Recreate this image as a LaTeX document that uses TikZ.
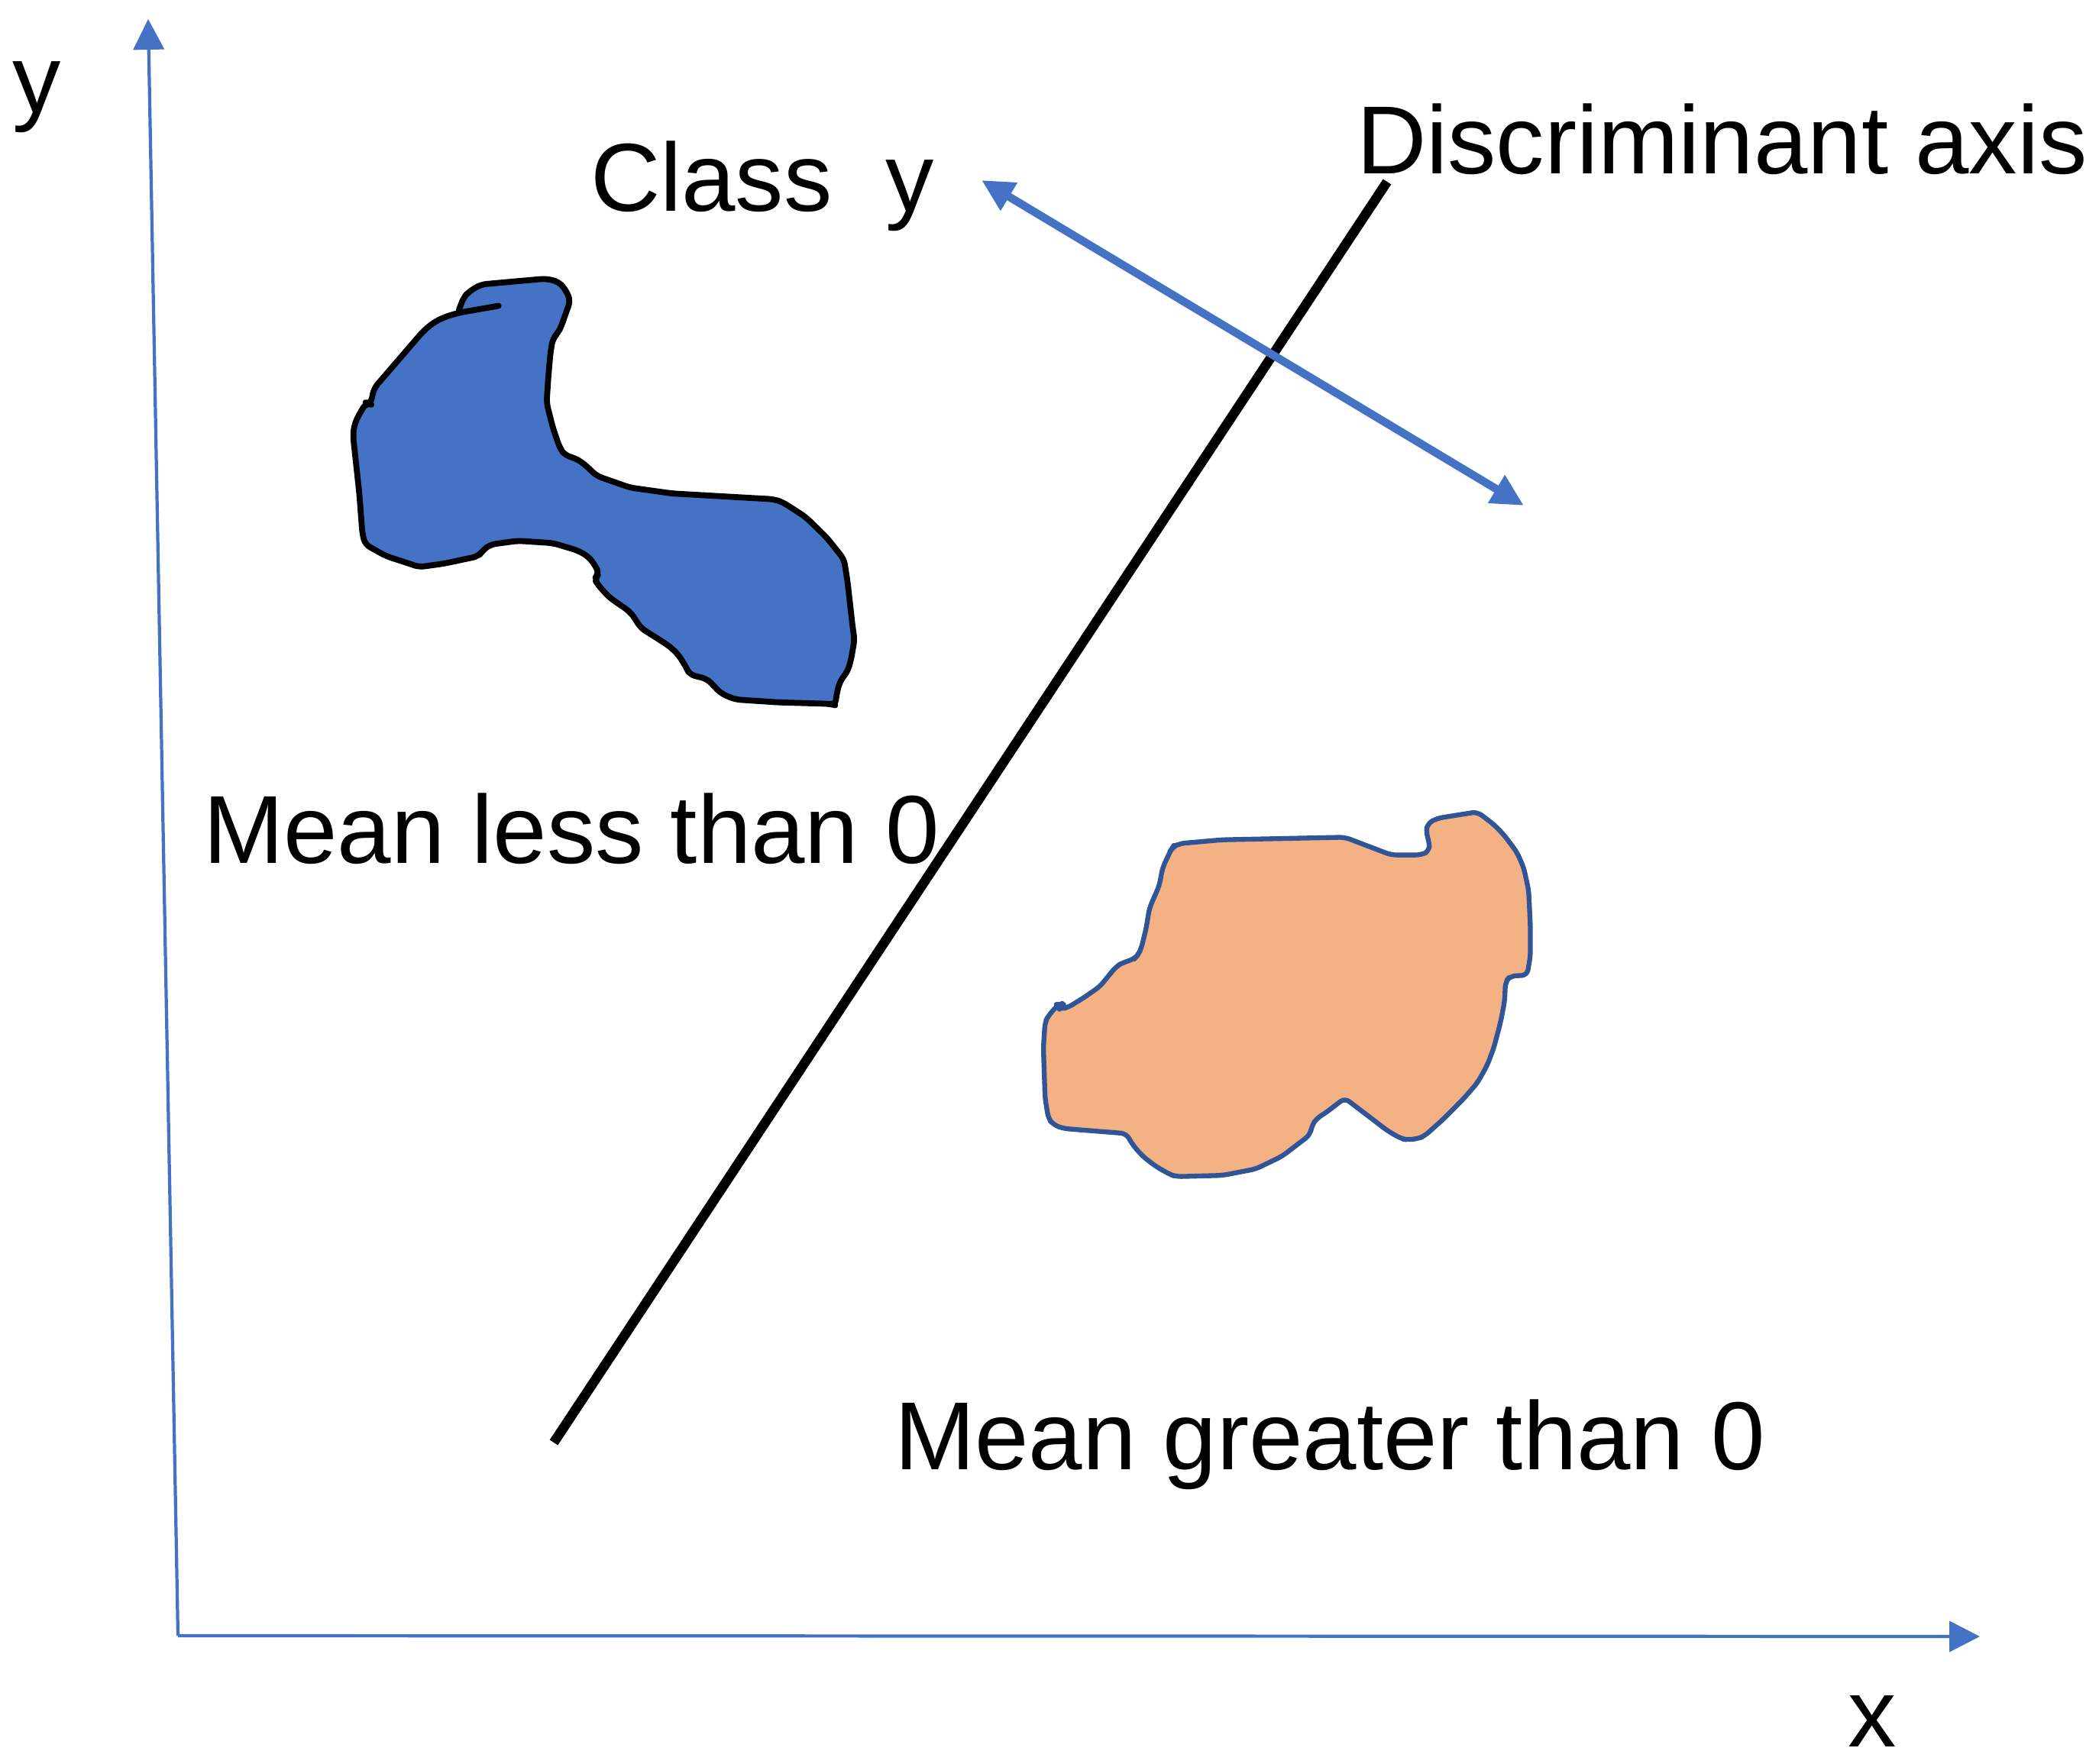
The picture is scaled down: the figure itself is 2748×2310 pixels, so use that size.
\documentclass[tikz,border=0pt]{standalone}
\usepackage{fontspec}
\setmainfont{Liberation Sans}
\usetikzlibrary{arrows.meta}
\definecolor{axisblue}{RGB}{68,114,196}
\definecolor{blobblue}{RGB}{68,114,196}
\definecolor{bloborange}{RGB}{244,177,131}
\definecolor{edgeblue}{RGB}{47,85,151}
\begin{document}
\begin{tikzpicture}[x=0.01cm,y=-0.01cm,
  lbl/.style={anchor=base west,inner sep=0pt,outer sep=0pt,font=\fontsize{36}{43}\selectfont},
  axisline/.style={draw=axisblue,line width=1.2pt,-{Triangle[length=0.4cm,width=0.4cm]}},
  dirarrow/.style={draw=axisblue,line width=3pt,{Triangle[length=0.42cm,width=0.4cm]}-{Triangle[length=0.42cm,width=0.4cm]}},
  discline/.style={draw=black,line width=3.6pt},
  blobA/.style={fill=blobblue,draw=black,line width=2.2pt,line join=round,line cap=round,rounded corners=2pt},
  blobB/.style={fill=bloborange,draw=edgeblue,line width=1.8pt,line join=round,rounded corners=2pt}]
\useasboundingbox (0,0) rectangle (2748,2310);

% axes
\coordinate (O) at (233,2142);
\coordinate (ytip) at (194,25);
\coordinate (xtip) at (2592,2143);
\draw[axisline] (O) -- (ytip);
\draw[axisline] (O) -- (xtip);

% blue class region
\path[blobA] (600.8,405.8) -- (606.8,389.8) -- (613.7,382.1) -- (629.7,372.5) -- (714.7,364.9) -- (730.7,368.7) -- (739.9,378.3) -- (746.8,393.6) -- (739.9,412.7) -- (735.3,426.1) -- (730.7,435.7) -- (723.8,443.3) -- (720.6,462.5) -- (717.9,493.1) -- (715.6,527.5) -- (723.8,560.0) -- (733.0,586.8) -- (739.9,596.4) -- (753.7,600.2) -- (765.2,607.9) -- (781.2,623.2) -- (824.9,638.5) -- (879.9,646.2) -- (1013.1,653.8) -- (1024.6,657.6) -- (1054.4,676.8) -- (1082.0,703.6) -- (1104.9,732.3) -- (1109.5,761.0) -- (1116.4,822.2) -- (1118.7,837.5) -- (1114.1,864.3) -- (1109.5,879.6) -- (1100.3,891.1) -- (1095.7,906.4) -- (1093.5,923.6) -- (1086.6,921.7) -- (1020.0,919.8) -- (962.6,916.0) -- (944.2,908.3) -- (935.0,898.7) -- (925.9,889.2) -- (902.9,883.4) -- (898.3,873.9) -- (889.1,858.6) -- (877.7,847.1) -- (857.0,833.7) -- (838.6,822.2) -- (831.7,810.7) -- (824.9,801.2) -- (797.3,782.0) -- (783.5,766.7) -- (778.0,757.9) -- (784.4,751.4) -- (778.9,739.9) -- (769.8,728.4) -- (756.0,720.8) -- (723.8,711.2) -- (677.9,708.2) -- (642.1,713.1) -- (632.0,720.8) -- (626.5,728.4) -- (581.5,738.0) -- (548.5,742.6) -- (535.6,738.0) -- (505.8,728.4) -- (478.2,713.1) -- (474.5,699.7) -- (470.4,646.2) -- (462.1,569.6) -- (464.4,554.3) -- (472.2,539.0) -- (479.6,527.5) -- (485.1,529.4) -- (489.7,508.4) -- (554.0,433.8) -- (567.7,422.3) -- (581.5,415.4) -- (599.9,409.7) -- (652.7,400.5);

% orange class region
\path[blobB] (1535.1,1109.7) -- (1543.8,1104.7) -- (1600.2,1099.7) -- (1760.6,1096.4) -- (1821.4,1119.6) -- (1860.4,1119.6) -- (1871.2,1114.6) -- (1871.2,1103.0) -- (1866.9,1089.8) -- (1869.1,1078.1) -- (1882.1,1071.5) -- (1934.1,1063.2) -- (1955.8,1079.8) -- (1968.8,1093.1) -- (1986.1,1116.3) -- (1994.8,1136.2) -- (2001.3,1166.0) -- (2003.5,1212.5) -- (2003.5,1252.3) -- (1999.2,1277.1) -- (1977.5,1278.1) -- (1971.0,1285.4) -- (1969.7,1312.0) -- (1964.5,1338.5) -- (1955.8,1371.7) -- (1947.1,1394.9) -- (1934.1,1418.1) -- (1916.8,1438.0) -- (1890.7,1464.5) -- (1864.7,1487.8) -- (1856.0,1491.1) -- (1843.0,1492.7) -- (1834.4,1491.1) -- (1817.0,1481.1) -- (1795.3,1464.5) -- (1773.6,1448.0) -- (1760.6,1438.0) -- (1747.6,1448.0) -- (1734.6,1457.9) -- (1723.8,1464.5) -- (1717.3,1474.5) -- (1715.1,1486.1) -- (1678.2,1514.3) -- (1643.6,1530.9) -- (1600.2,1539.2) -- (1539.5,1540.8) -- (1530.8,1537.5) -- (1513.5,1527.6) -- (1496.1,1514.3) -- (1483.1,1499.4) -- (1474.4,1484.4) -- (1392.0,1477.8) -- (1379.0,1472.8) -- (1372.5,1464.5) -- (1368.2,1438.0) -- (1366.0,1371.7) -- (1368.2,1338.5) -- (1372.5,1330.2) -- (1385.5,1315.3) -- (1389.9,1315.3) -- (1387.7,1320.3) -- (1396.4,1320.3) -- (1418.1,1307.0) -- (1439.7,1292.1) -- (1461.4,1265.5) -- (1470.1,1260.6) -- (1485.3,1255.6) -- (1489.6,1250.6) -- (1494.0,1242.3) -- (1500.5,1215.8) -- (1504.8,1189.3) -- (1517.8,1159.4) -- (1522.1,1136.2) -- (1533.0,1113.0) -- cycle;

% discriminant axis
\coordinate (d1) at (725,1889);
\coordinate (d2) at (1816,238);
\draw[discline] (d1) -- (d2);

% projection direction
\coordinate (a1) at (1285,236);
\coordinate (a2) at (1995,662);
\draw[dirarrow] (a1) -- (a2);

% labels
\node[lbl] (ylab) at (17,148) {y};
\node[lbl] (xlab) at (2419,2287) {x};
\node[lbl] (classlab) at (773,277) {Class\ \ y};
\node[lbl] (disclab) at (1776,228) {Discriminant axis};
\node[lbl] (lesslab) at (266,1130) {Mean less than 0};
\node[lbl] (greaterlab) at (1171,1924) {Mean greater than 0};
\end{tikzpicture}
\end{document}
